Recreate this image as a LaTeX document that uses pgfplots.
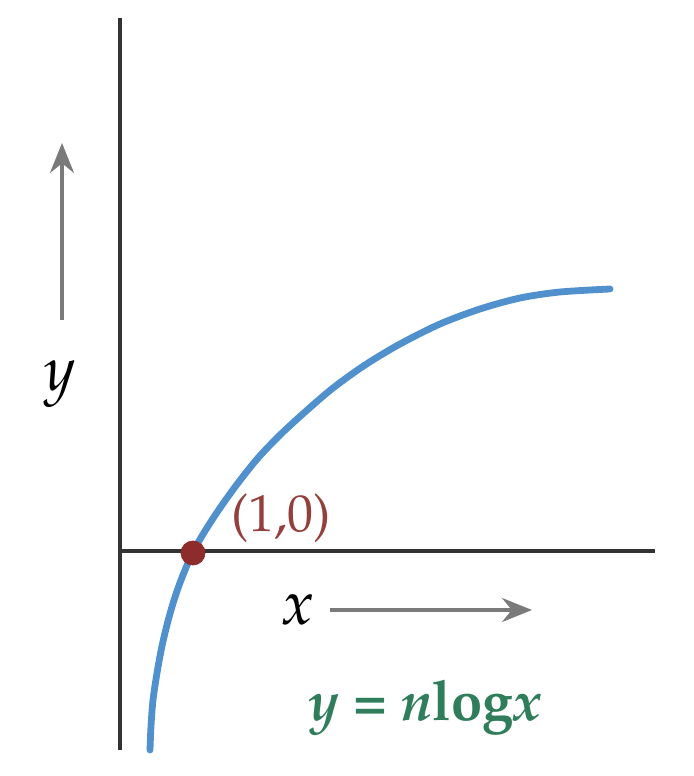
\documentclass[border=0pt]{standalone}
\usepackage[T1]{fontenc}
\usepackage{mathpazo}
\usepackage{pgfplots}
\pgfplotsset{compat=1.18}
\usetikzlibrary{arrows.meta}
\definecolor{axisgray}{HTML}{333333}
\definecolor{arrowgray}{HTML}{7A7A7A}
\definecolor{curveblue}{HTML}{5090CC}
\definecolor{dotred}{HTML}{8E2B2B}
\definecolor{labred}{HTML}{93403D}
\definecolor{eqgreen}{HTML}{2F7D5A}
\begin{document}
\begin{tikzpicture}
\begin{axis}[
  scale only axis, width=347pt, height=388pt,
  xmin=0, xmax=694, ymin=0, ymax=776,
  axis line style={draw=none}, ticks=none, clip=false,
]
% axes
\addplot[axisgray, line width=1.6pt] coordinates {(120,758) (120,26)};
\addplot[axisgray, line width=1.6pt] coordinates {(120,225) (655,225)};
% curve
\addplot[curveblue, line width=3.4pt, smooth, line cap=round] coordinates {
(150,26) (151,50) (153,76) (157,103) (162,130) (168,155) (175,179)
(183,201) (193,224) (205,245) (220,268) (238,293) (258,318) (280,341)
(305,364) (333,388) (365,411) (400,432) (440,452) (480,467) (520,478)
(560,484) (610,487)};
% point (1,0)
\addplot[only marks, mark=*, mark size=6pt, color=dotred] coordinates {(193,223)};
% direction arrows
\addplot[arrowgray, line width=1.6pt, -{Stealth[length=15pt,width=12pt]}] coordinates {(330,166) (532,166)};
\addplot[arrowgray, line width=1.6pt, -{Stealth[length=15pt,width=12pt]}] coordinates {(62,456) (62,633)};
% labels
\node[text=labred, font=\fontsize{26}{30}\selectfont] at (axis cs:281,258) {(1,0)};
\node[font=\fontsize{31}{35}\selectfont] at (axis cs:298,166) {$x$};
\node[font=\fontsize{31}{35}\selectfont] at (axis cs:60,392) {$y$};
\node[text=eqgreen, font=\fontsize{28}{32}\selectfont\bfseries] at (axis cs:425,68) {\textit{y} = \textit{n}log\textit{x}};
\end{axis}
\end{tikzpicture}
\end{document}
